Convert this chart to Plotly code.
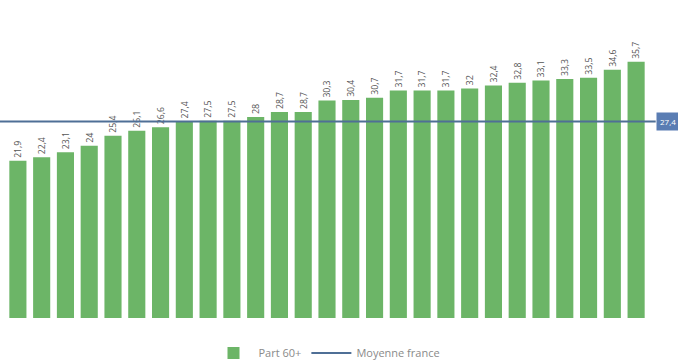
import plotly.graph_objects as go

# Share of population aged 60+ per territory (%), sorted ascending
territoires = [f"T{i:02d}" for i in range(1, 28)]
part_60 = [21.9, 22.4, 23.1, 24.0, 25.4, 26.1, 26.6, 27.4, 27.5, 27.5, 28.0,
           28.7, 28.7, 30.3, 30.4, 30.7, 31.7, 31.7, 31.7, 32.0, 32.4, 32.8,
           33.1, 33.3, 33.5, 34.6, 35.7]
moyenne_france = 27.4


def fr(v):
    s = f"{v:g}"
    return s.replace(".", ",")


fig = go.Figure()
fig.add_trace(go.Bar(
    x=territoires, y=part_60, name="Part 60+",
    marker=dict(color="#6cb567", line=dict(width=0)),
    text=[fr(v) for v in part_60], textposition="outside",
    textangle=-90, textfont=dict(size=9, color="#555555", family="Open Sans"),
    cliponaxis=False,
))
# legend entry for the reference line
fig.add_trace(go.Scatter(
    x=[None], y=[None], mode="lines", name="Moyenne france",
    line=dict(color="#4f6f96", width=2),
))
fig.add_shape(type="line", xref="paper", yref="y", x0=-0.01, x1=1.012,
              y0=moyenne_france, y1=moyenne_france,
              line=dict(color="#4f6f96", width=2))
fig.add_annotation(xref="paper", yref="y", x=1.012, y=moyenne_france,
                   xanchor="left", text=fr(moyenne_france), showarrow=False,
                   bgcolor="#5a7db3", font=dict(size=8, color="white", family="Open Sans"),
                   borderpad=3)

fig.update_layout(
    width=678, height=361,
    margin=dict(l=6, r=30, t=31, b=43, autoexpand=False),
    paper_bgcolor="white", plot_bgcolor="white",
    bargap=0.28,
    showlegend=True,
    legend=dict(orientation="h", x=0.5, xanchor="center", y=-0.122, yanchor="middle",
                font=dict(size=11, color="#8a8a8a", family="Open Sans"),
                itemwidth=40),
    xaxis=dict(showticklabels=False, showgrid=False, zeroline=False, showline=False),
    yaxis=dict(range=[0, 40], visible=False),
)
fig.write_html("out.html")
